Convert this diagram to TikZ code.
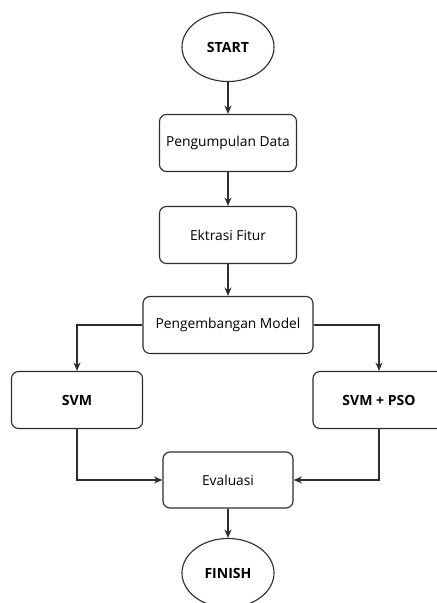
\documentclass[tikz,border=0pt]{standalone}
\usepackage{fontspec}
\setmainfont{Open Sans}
\usepackage{tikz}
\usetikzlibrary{arrows.meta, positioning, shapes.geometric}
\definecolor{linegray}{RGB}{45, 45, 45}

\begin{document}
\begin{tikzpicture}[x=0.025cm, y=-0.025cm, >={Stealth[length=6pt, width=5pt]},
    termnode/.style={ellipse, draw=linegray, line width=0.8pt, minimum width=2.3cm, minimum height=1.725cm, font=\bfseries\fontsize{10}{12}\selectfont},
    procbox/.style={rectangle, rounded corners=5pt, draw=linegray, line width=0.8pt, minimum width=3.425cm, minimum height=1.425cm, font=\fontsize{9.8}{12}\selectfont},
    flow/.style={->, draw=linegray, line width=0.8pt}]
    \useasboundingbox (0,0) rectangle (436,603);
    % terminals and steps
    \node[termnode] (start) at (228,47) {START};
    \node[procbox] (data) at (228,143) {Pengumpulan Data};
    \node[procbox] (fitur) at (228,235) {Ektrasi Fitur};
    \node[procbox, minimum width=4.25cm] (model) at (228,325) {Pengembangan Model};
    \node[procbox, minimum width=3.275cm, font=\bfseries\fontsize{10}{12}\selectfont] (svm) at (77,400) {SVM};
    \node[procbox, minimum width=3.3cm, font=\bfseries\fontsize{10}{12}\selectfont] (svmpso) at (379,400) {SVM + PSO};
    \node[procbox, minimum width=3.25cm, minimum height=1.4cm] (eval) at (228,480) {Evaluasi};
    \node[termnode] (finish) at (228,573) {FINISH};
    % connectors
    \draw[flow] (start) -- (data);
    \draw[flow] (data) -- (fitur);
    \draw[flow] (fitur) -- (model);
    \draw[flow] (model.west) -| (svm);
    \draw[flow] (model.east) -| (svmpso);
    \draw[flow] (svm) |- (eval);
    \draw[flow] (svmpso) |- (eval);
    \draw[flow] (eval) -- (finish);
\end{tikzpicture}
\end{document}
